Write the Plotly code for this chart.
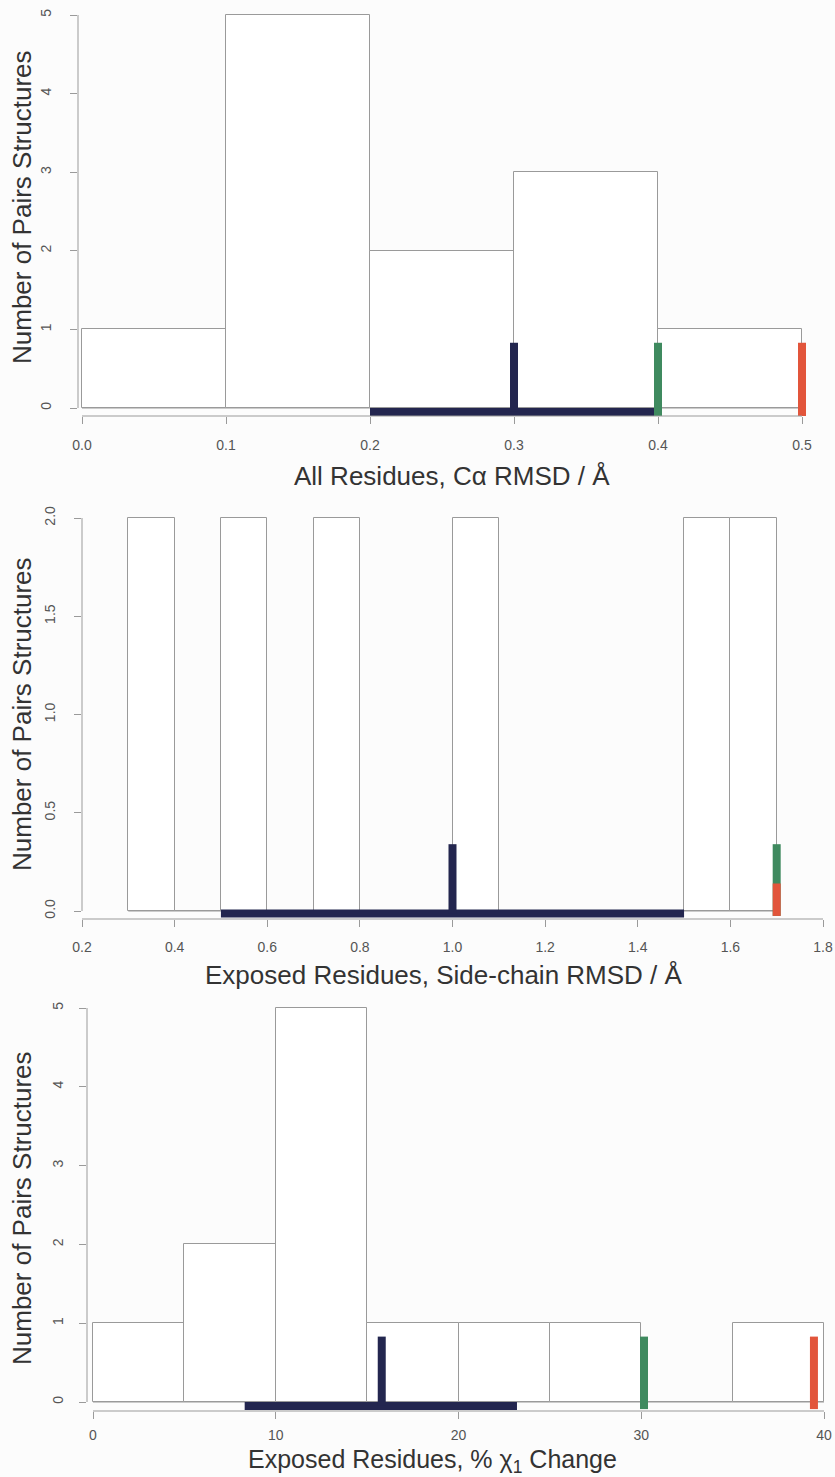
import plotly.graph_objects as go

# ---------------- data ----------------
# Panel 1: All residues, C-alpha RMSD
p1_edges = [0.0, 0.1, 0.2, 0.3, 0.4, 0.5]
p1_counts = [1, 5, 2, 3, 1]
p1_range = [0.2, 0.4]      # blue horizontal bar
p1_mean = 0.3              # blue vertical
p1_green = 0.4
p1_red = 0.5
p1_xticks = [0.0, 0.1, 0.2, 0.3, 0.4, 0.5]
p1_xticktext = ["0.0", "0.1", "0.2", "0.3", "0.4", "0.5"]
p1_yticks = [0, 1, 2, 3, 4, 5]
p1_yticktext = ["0", "1", "2", "3", "4", "5"]

# Panel 2: Exposed residues, side-chain RMSD
p2_edges = [0.3, 0.4, 0.5, 0.6, 0.7, 0.8, 0.9, 1.0, 1.1, 1.2, 1.3, 1.4, 1.5, 1.6, 1.7]
p2_counts = [2, 0, 2, 0, 2, 0, 0, 2, 0, 0, 0, 0, 2, 2]
p2_range = [0.5, 1.5]
p2_mean = 1.0
p2_green = 1.7
p2_red = 1.7
p2_xticks = [0.2, 0.4, 0.6, 0.8, 1.0, 1.2, 1.4, 1.6, 1.8]
p2_xticktext = ["0.2", "0.4", "0.6", "0.8", "1.0", "1.2", "1.4", "1.6", "1.8"]
p2_yticks = [0.0, 0.5, 1.0, 1.5, 2.0]
p2_yticktext = ["0.0", "0.5", "1.0", "1.5", "2.0"]

# Panel 3: Exposed residues, % chi1 change
p3_edges = [0, 5, 10, 15, 20, 25, 30, 35, 40]
p3_counts = [1, 2, 5, 1, 1, 1, 0, 1]
p3_range = [8.3, 23.2]
p3_mean = 15.8
p3_green = 30.15
p3_red = 39.45
p3_xticks = [0, 10, 20, 30, 40]
p3_xticktext = ["0", "10", "20", "30", "40"]
p3_yticks = [0, 1, 2, 3, 4, 5]
p3_yticktext = ["0", "1", "2", "3", "4", "5"]

ytitle = "Number of Pairs Structures"
xtitles = ["All Residues, C\u03b1 RMSD / \u00c5",
           "Exposed Residues, Side-chain RMSD / \u00c5",
           "Exposed Residues, % \u03c7<sub>1</sub> Change"]

# ---------------- style ----------------
W, H = 835, 1477
BAR_LINE = "#9a9a9a"
AXIS_COL = "#9a9a9a"
TICK_FONT = dict(family="Liberation Sans, Arial, sans-serif", size=14, color="#555555")
TITLE_FONT = dict(family="Liberation Sans, Arial, sans-serif", size=26, color="#333333")
TITLE_FONT3 = dict(family="Liberation Sans, Arial, sans-serif", size=25, color="#333333")
NAVY = "#23264f"
GREEN = "#3f8a5f"
RED = "#e2553b"
MW = 8

fig = go.Figure()

panels = [
    dict(edges=p1_edges, counts=p1_counts, rng=p1_range, mean=p1_mean, green=p1_green, red=p1_red,
         xt=p1_xticks, xtt=p1_xticktext, yt=p1_yticks, ytt=p1_yticktext,
         xr=[-0.002778, 0.52083], yr=[-0.1018, 5.1018],
         xd=[78 / W, 832 / W], yd=[(H - 416) / H, (H - 7) / H],
         hbar_y=-0.05, top=0.83, green_lo=-0.11, red_lo=-0.11, red_hi=0.83, ystand=13, xstand=9),
    dict(edges=p2_edges, counts=p2_counts, rng=p2_range, mean=p2_mean, green=p2_green, red=p2_red,
         xt=p2_xticks, xtt=p2_xticktext, yt=p2_yticks, ytt=p2_yticktext,
         xr=[0.2, 1.81943], yr=[-0.0407, 2.0407],
         xd=[82 / W, 832 / W], yd=[(H - 919) / H, (H - 510) / H],
         hbar_y=-0.013, top=0.34, green_lo=-0.025, red_lo=-0.025, red_hi=0.14, ystand=13, xstand=8),
    dict(edges=p3_edges, counts=p3_counts, rng=p3_range, mean=p3_mean, green=p3_green, red=p3_red,
         xt=p3_xticks, xtt=p3_xticktext, yt=p3_yticks, ytt=p3_yticktext,
         xr=[-0.3283, 40.438], yr=[-0.1142, 5.1015],
         xd=[87 / W, 832 / W], yd=[(H - 1411) / H, (H - 1000) / H],
         hbar_y=-0.05, top=0.83, green_lo=-0.09, red_lo=-0.09, red_hi=0.83, ystand=10, xstand=4),
]

xtitle_pos = [(452, 476), (443.5, 975), (432, 1461)]
xtitle_fonts = [TITLE_FONT, TITLE_FONT, TITLE_FONT3]
ytitle_y = [207, 714, 1208]

shapes = []
annotations = []
layout_axes = {}

for i, p in enumerate(panels):
    n = "" if i == 0 else str(i + 1)
    xa, ya = "x" + n, "y" + n
    edges, counts = p["edges"], p["counts"]
    centers = [(edges[k] + edges[k + 1]) / 2 for k in range(len(counts))]
    widths = [edges[k + 1] - edges[k] for k in range(len(counts))]

    # histogram bars
    fig.add_trace(go.Bar(x=centers, y=counts, width=widths, xaxis=xa, yaxis=ya,
                         marker=dict(color="rgba(255,255,255,1)", line=dict(color=BAR_LINE, width=1)),
                         showlegend=False, hoverinfo="skip"))
    # baseline of empty bins
    fig.add_trace(go.Scatter(x=[edges[0], edges[-1]], y=[0, 0], mode="lines", xaxis=xa, yaxis=ya,
                             line=dict(color=BAR_LINE, width=1), showlegend=False, hoverinfo="skip"))
    # blue range bar
    fig.add_trace(go.Scatter(x=p["rng"], y=[p["hbar_y"], p["hbar_y"]], mode="lines", xaxis=xa, yaxis=ya,
                             line=dict(color=NAVY, width=MW), showlegend=False, hoverinfo="skip"))
    # blue mean
    fig.add_trace(go.Scatter(x=[p["mean"], p["mean"]], y=[p["hbar_y"], p["top"]], mode="lines",
                             xaxis=xa, yaxis=ya, line=dict(color=NAVY, width=MW),
                             showlegend=False, hoverinfo="skip"))
    # green
    fig.add_trace(go.Scatter(x=[p["green"], p["green"]], y=[p["green_lo"], p["top"]], mode="lines",
                             xaxis=xa, yaxis=ya, line=dict(color=GREEN, width=MW),
                             showlegend=False, hoverinfo="skip"))
    # red
    fig.add_trace(go.Scatter(x=[p["red"], p["red"]], y=[p["red_lo"], p["red_hi"]], mode="lines",
                             xaxis=xa, yaxis=ya, line=dict(color=RED, width=MW),
                             showlegend=False, hoverinfo="skip"))

    layout_axes["xaxis" + n] = dict(
        domain=p["xd"], range=p["xr"], anchor=ya, showgrid=False, zeroline=False, showline=False,
        automargin=False,
        ticks="outside", ticklen=7, tickwidth=1, tickcolor=AXIS_COL,
        tickvals=p["xt"], ticktext=p["xtt"], tickfont=TICK_FONT, ticklabelstandoff=p["xstand"],
        fixedrange=True)
    layout_axes["yaxis" + n] = dict(
        domain=p["yd"], range=p["yr"], anchor=xa, showgrid=False, zeroline=False, showline=False,
        automargin=False,
        ticks="outside", ticklen=7, tickwidth=1, tickcolor=AXIS_COL,
        tickvals=p["yt"], ticktext=p["ytt"], tickfont=TICK_FONT, tickangle=-90,
        ticklabelstandoff=p["ystand"], fixedrange=True)

    # axis lines spanning the tick range (R style)
    shapes.append(dict(type="line", xref=xa + " domain", yref=ya, x0=0, x1=0,
                       y0=p["yt"][0], y1=p["yt"][-1], line=dict(color=AXIS_COL, width=1)))
    shapes.append(dict(type="line", xref=xa, yref=ya + " domain", x0=p["xt"][0], x1=p["xt"][-1],
                       y0=0, y1=0, line=dict(color=AXIS_COL, width=1)))

    tx, ty = xtitle_pos[i]
    annotations.append(dict(text=xtitles[i], xref="paper", yref="paper", x=tx / W, y=(H - ty) / H,
                            xanchor="center", yanchor="middle", showarrow=False, font=xtitle_fonts[i]))
    annotations.append(dict(text=ytitle, xref="paper", yref="paper", x=22 / W, y=(H - ytitle_y[i]) / H,
                            xanchor="center", yanchor="middle", showarrow=False, textangle=-90,
                            font=TITLE_FONT))

fig.update_layout(
    template="none",
    width=W, height=H, margin=dict(l=0, r=0, t=0, b=0, autoexpand=False),
    paper_bgcolor="#fcfcfc", plot_bgcolor="#fcfcfc",
    bargap=0, barmode="overlay", shapes=shapes, annotations=annotations,
    **layout_axes)

fig.write_html("out.html")
